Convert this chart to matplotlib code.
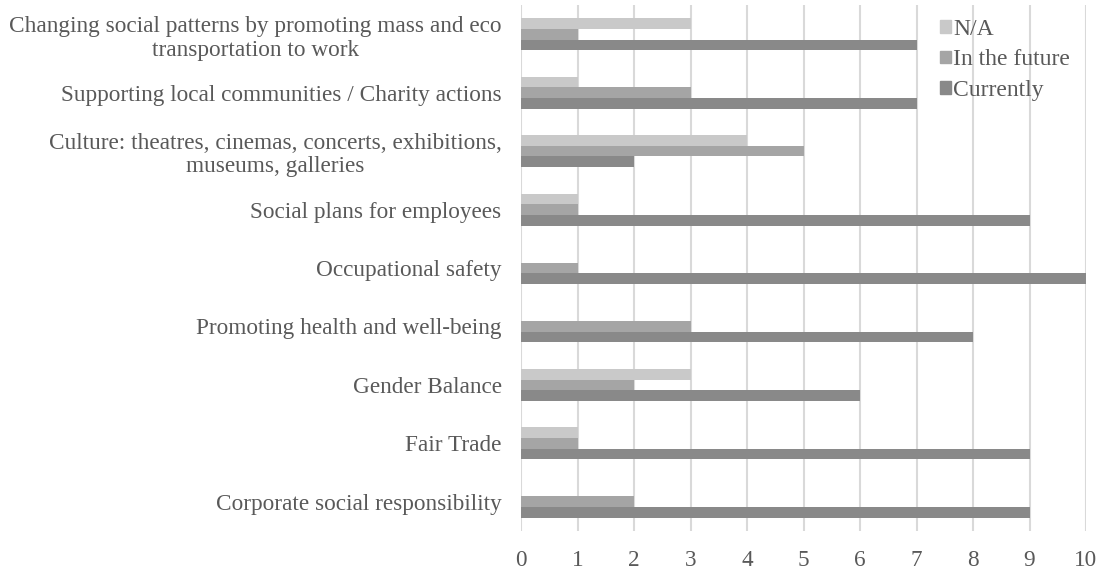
import matplotlib.pyplot as plt
from matplotlib.patches import Patch
import numpy as np

# DATA (bottom to top)
categories = [
    "Corporate social responsibility",
    "Fair Trade",
    "Gender Balance",
    "Promoting health and well-being",
    "Occupational safety",
    "Social plans for employees",
    "Culture: theatres, cinemas, concerts, exhibitions,\nmuseums, galleries",
    "Supporting local communities / Charity actions",
    "Changing social patterns by promoting mass and eco\ntransportation to work",
]
currently = [9, 9, 6, 8, 10, 9, 2, 7, 7]
in_future = [2, 1, 2, 3, 1, 1, 5, 3, 1]
not_avail = [0, 1, 3, 0, 0, 1, 4, 1, 3]
xticks = list(range(0, 11))

plt.rcParams['font.family'] = ['Liberation Serif', 'DejaVu Serif']
txt_col = '#595959'
c_cur = '#898989'
c_fut = '#a5a5a5'
c_na = '#c9c9c9'

fig = plt.figure(figsize=(11.06, 5.72), dpi=100)
ax = fig.add_axes([521/1106, 1 - 531/572, (1086 - 521)/1106, 526/572])

y = np.arange(len(categories))
h = 0.183
ax.barh(y - h, currently, height=h, color=c_cur, zorder=3)
ax.barh(y, in_future, height=h, color=c_fut, zorder=3)
ax.barh(y + h, not_avail, height=h, color=c_na, zorder=3)

ax.set_xlim(0, 10)
ax.set_ylim(-0.5, len(categories) - 0.5)
ax.set_xticks(xticks)
ax.set_yticks(y)
ax.set_yticklabels(categories, multialignment='center', linespacing=1.18)
ax.tick_params(axis='both', length=0, labelsize=16.75, colors=txt_col)
ax.tick_params(axis='y', pad=14)
ax.tick_params(axis='x', pad=14)
ax.grid(axis='x', color='#d9d9d9', linewidth=1.5, zorder=0)
for s in ax.spines.values():
    s.set_visible(False)

handles = [Patch(color=c_na, label='N/A'),
           Patch(color=c_fut, label='In the future'),
           Patch(color=c_cur, label='Currently')]
leg = fig.legend(handles=handles, loc='upper left', bbox_to_anchor=(940/1106, 1 - 19/572),
                 frameon=False, fontsize=17, handlelength=0.45, handleheight=0.45,
                 handletextpad=0.12, labelspacing=0.4, borderpad=0, borderaxespad=0)
for t in leg.get_texts():
    t.set_color(txt_col)

plt.savefig("out.png", dpi=100)
